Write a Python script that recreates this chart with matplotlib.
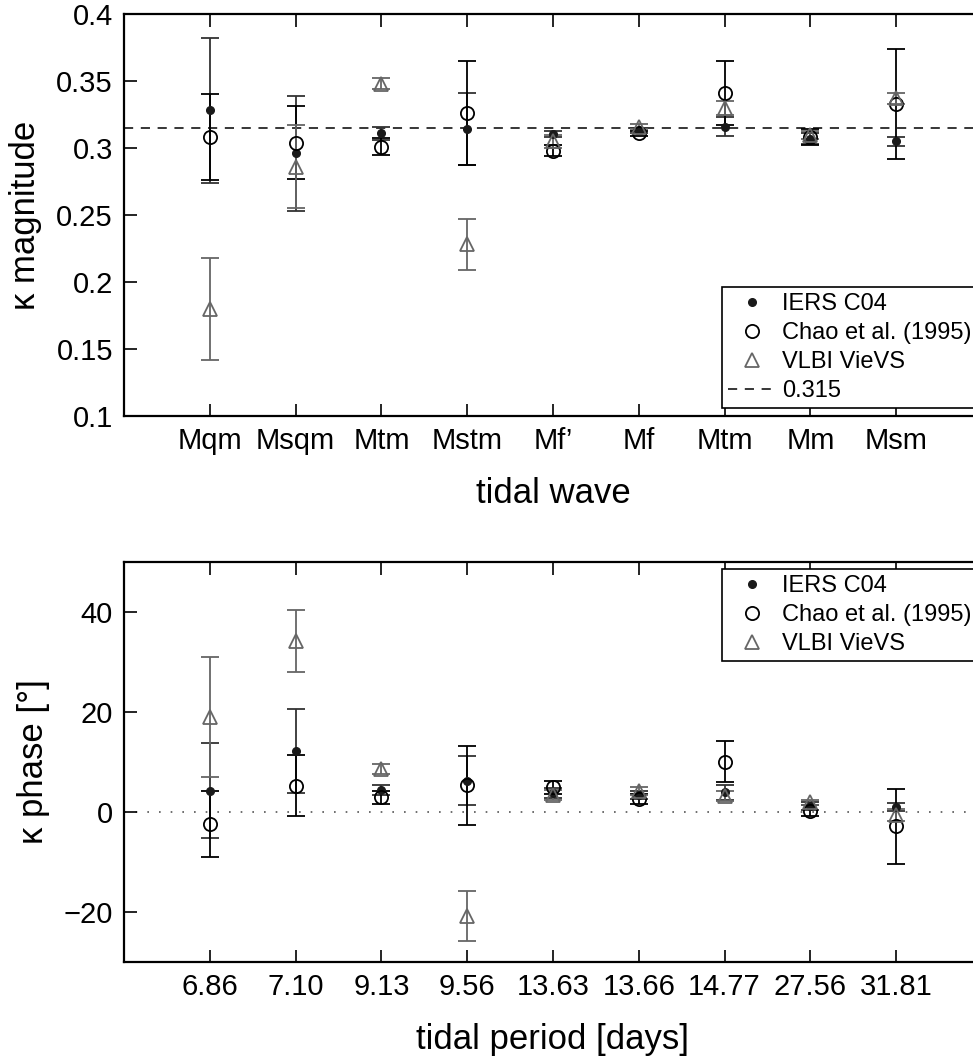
import numpy as np
import matplotlib
matplotlib.use('Agg')
import matplotlib.pyplot as plt

plt.rcParams['font.family'] = ['Liberation Sans', 'DejaVu Sans']

# tidal waves / periods
waves = ['Mqm', 'Msqm', 'Mtm', 'Mstm', "Mf\u2019", 'Mf', 'Mtm', 'Mm', 'Msm']
periods = ['6.86', '7.10', '9.13', '9.56', '13.63', '13.66', '14.77', '27.56', '31.81']

# kappa magnitude
mag_iers = [0.328, 0.296, 0.311, 0.314, 0.3105, 0.313, 0.316, 0.307, 0.305]
mag_iers_err = [0.054, 0.043, 0.005, 0.027, 0.002, 0.002, 0.007, 0.004, 0.0035]
mag_chao = [0.308, 0.304, 0.301, 0.326, 0.298, 0.311, 0.341, 0.308, 0.333]
mag_chao_err = [0.032, 0.027, 0.0065, 0.039, 0.004, 0.002, 0.024, 0.006, 0.041]
mag_vlbi = [0.180, 0.286, 0.348, 0.228, 0.305, 0.316, 0.330, 0.310, 0.337]
mag_vlbi_err = [0.038, 0.031, 0.004, 0.019, 0.005, 0.002, 0.005, 0.003, 0.004]
mag_ref = 0.315

# kappa phase [deg]
ph_iers = [4.3, 12.3, 4.5, 6.3, 3.8, 3.5, 4.0, 1.3, 1.1]
ph_iers_err = [9.5, 8.4, 1.0, 4.95, 1.0, 0.8, 1.5, 0.8, 0.8]
ph_chao = [-2.3, 5.3, 3.0, 5.4, 5.0, 2.7, 10.1, 0.3, -2.8]
ph_chao_err = [6.6, 6.05, 1.3, 7.9, 1.3, 1.0, 4.1, 1.1, 7.5]
ph_vlbi = [19.0, 34.2, 8.7, -20.8, 3.5, 4.2, 3.2, 2.0, -0.6]
ph_vlbi_err = [12.0, 6.2, 1.0, 5.0, 1.0, 0.8, 1.0, 0.5, 1.2]

x = np.arange(1, len(waves) + 1)

c_iers = '#1a1a1a'
c_chao = 'black'
c_vlbi = '#666666'
tick_fs = 21
lab_fs = 25
leg_fs = 17


def draw(ax, y1, e1, y2, e2, y3, e3):
    kw = dict(fmt='none', capsize=6.5, elinewidth=1.3, capthick=1.3)
    ax.errorbar(x, y1, yerr=e1, ecolor='#333333', **kw)
    ax.errorbar(x, y2, yerr=e2, ecolor=c_chao, **kw)
    ax.errorbar(x, y3, yerr=e3, ecolor=c_vlbi, **kw)
    ax.plot(x, y1, 'o', ms=5.5, mfc=c_iers, mec=c_iers, ls='none', label='IERS C04')
    ax.plot(x, y2, 'o', ms=9.5, mfc='none', mec=c_chao, mew=1.3, ls='none',
            label='Chao et al. (1995)')
    ax.plot(x, y3, '^', ms=10, mfc='none', mec=c_vlbi, mew=1.3, ls='none',
            label='VLBI VieVS')


def style(ax):
    ax.set_xlim(0, 10)
    ax.set_xticks(x)
    ax.tick_params(direction='in', length=9, width=1.2, labelsize=tick_fs,
                   top=True, right=False, pad=8)
    for s in ax.spines.values():
        s.set_linewidth(1.6)


def add_legend(ax, top):
    leg = ax.legend(loc='upper left', bbox_to_anchor=(0.697, top), borderaxespad=0,
                    fontsize=leg_fs, fancybox=False, framealpha=1, edgecolor='black',
                    handlelength=2.0, handletextpad=0.3, labelspacing=0.3,
                    borderpad=0.25)
    leg.get_frame().set_linewidth(1.2)


fig = plt.figure(figsize=(9.73, 10.61), dpi=100)

# top: magnitude
ax1 = fig.add_axes([124 / 973, 1 - 416 / 1061, 858 / 973, 402 / 1061])
draw(ax1, mag_iers, mag_iers_err, mag_chao, mag_chao_err, mag_vlbi, mag_vlbi_err)
ax1.axhline(mag_ref, color='black', ls=(0, (6, 5)), lw=1.1, label='0.315', zorder=0)
style(ax1)
ax1.set_ylim(0.1, 0.4)
ax1.set_yticks([0.1, 0.15, 0.2, 0.25, 0.3, 0.35, 0.4])
ax1.set_yticklabels(['0.1', '0.15', '0.2', '0.25', '0.3', '0.35', '0.4'])
ax1.set_xticklabels(waves)
ax1.set_xlabel('tidal wave', fontsize=lab_fs, labelpad=16)
ax1.set_ylabel('\u03ba magnitude', fontsize=lab_fs, labelpad=10)
add_legend(ax1, 0.321)

# bottom: phase
ax2 = fig.add_axes([124 / 973, 1 - 962 / 1061, 858 / 973, 400 / 1061])
ax2.axhline(0, color='#555555', ls=(0, (1, 6)), lw=1.2, zorder=0)
draw(ax2, ph_iers, ph_iers_err, ph_chao, ph_chao_err, ph_vlbi, ph_vlbi_err)
style(ax2)
ax2.set_ylim(-30, 50)
ax2.set_yticks([-20, 0, 20, 40])
ax2.set_yticklabels(['\u221220', '0', '20', '40'])
ax2.set_xticklabels(periods)
ax2.set_xlabel('tidal period [days]', fontsize=lab_fs, labelpad=16)
ax2.set_ylabel('\u03ba phase [\u00b0]', fontsize=lab_fs, labelpad=10)
add_legend(ax2, 0.9825)

fig.savefig('out.png', dpi=100)
